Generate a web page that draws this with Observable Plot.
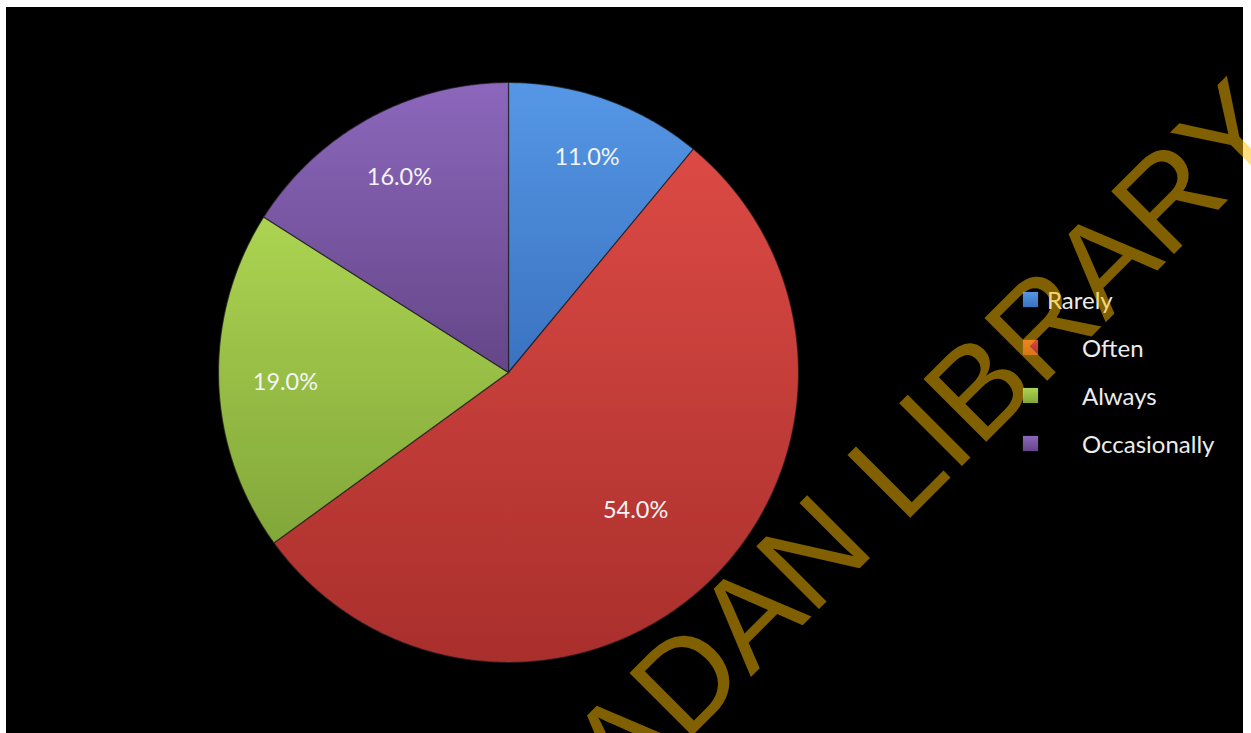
<!DOCTYPE html>
<html>
<head>
<meta charset="utf-8">
<script src="https://cdn.jsdelivr.net/npm/d3@7"></script>
<script src="https://cdn.jsdelivr.net/npm/@observablehq/plot@0.6"></script>
<style>
  html, body { margin: 0; padding: 0; background: #ffffff; }
  body { width: 1251px; height: 733px; overflow: hidden; position: relative; }
  #chart { position: absolute; left: 6px; top: 7px; width: 1237px; height: 726px; background: #000; overflow: hidden; }
  #legend { position: absolute; left: 1023px; top: 275px; font-family: Lato, "Open Sans", sans-serif; font-size: 24px; color: #ececec; }
  #legend .item { display: flex; align-items: center; height: 48px; }
  #legend .sw { width: 15px; height: 15px; margin-right: 44px; box-shadow: 0 0 2px rgba(255,255,255,0.15); }
  #legend .item:first-child .sw { margin-right: 9px; }
  #watermark { position: absolute; left: 0; top: 0; pointer-events: none; }
</style>
</head>
<body>
<div id="chart"></div>
<div id="legend"></div>
<svg id="watermark" width="1251" height="733"></svg>
<script>
// ---- data ----
const categories = ["Rarely", "Often", "Always", "Occasionally"];
const values = [11.0, 54.0, 19.0, 16.0];
const labels = ["11.0%", "54.0%", "19.0%", "16.0%"];
const topColors = ["#5597e6", "#dc4a45", "#acd451", "#8c67bc"];
const bottomColors = ["#3a72c0", "#a92f2c", "#82a73a", "#654688"];
const watermarkText = "UNIVERSITY OF IBADAN LIBRARY";

// ---- pie geometry from data ----
const total = d3.sum(values);
const arcs = d3.pie().sort(null).value(d => d)(values);
const slicePts = [];
arcs.forEach((a, i) => {
  const n = Math.max(8, Math.ceil((a.endAngle - a.startAngle) / 0.01));
  slicePts.push({cat: categories[i], i, x: 0, y: 0});
  for (let k = 0; k <= n; k++) {
    const t = a.startAngle + (a.endAngle - a.startAngle) * k / n;
    slicePts.push({cat: categories[i], i, x: Math.sin(t), y: Math.cos(t)});
  }
  slicePts.push({cat: categories[i], i, x: 0, y: 0});
});
const labelData = arcs.map((a, i) => {
  const mid = (a.startAngle + a.endAngle) / 2;
  const r = 0.84 - 0.37 * (values[i] / total);
  return {x: r * Math.sin(mid), y: r * Math.cos(mid), text: labels[i]};
});

const chart = Plot.plot({
  width: 1237,
  height: 726,
  marginLeft: 212,
  marginRight: 445,
  marginTop: 75,
  marginBottom: 71,
  x: {domain: [-1, 1], axis: null},
  y: {domain: [-1, 1], axis: null},
  color: {type: "identity"},
  style: {background: "transparent", overflow: "visible"},
  marks: [
    Plot.line(slicePts, {
      x: "x", y: "y", z: "cat",
      fill: d => `url(#grad-${d.i})`,
      stroke: "#1b1b1b", strokeWidth: 1.2, strokeOpacity: 0.7,
      strokeLinejoin: "round"
    }),
    Plot.text(labelData, {
      x: "x", y: "y", text: "text", dy: 3,
      fill: "#f4f4f4", fontSize: 23.5,
      fontFamily: "Lato, 'Open Sans', sans-serif"
    })
  ]
});
const defs = categories.map((c, i) =>
  `<linearGradient id="grad-${i}" x1="0" y1="0" x2="0" y2="1">
     <stop offset="0" stop-color="${topColors[i]}"/>
     <stop offset="1" stop-color="${bottomColors[i]}"/>
   </linearGradient>`).join("");
chart.insertAdjacentHTML("afterbegin", `<defs>${defs}</defs>`);
document.getElementById("chart").appendChild(chart);

// ---- legend ----
const legend = document.getElementById("legend");
categories.forEach((c, i) => {
  const item = document.createElement("div");
  item.className = "item";
  const sw = document.createElement("span");
  sw.className = "sw";
  sw.style.background = `linear-gradient(${topColors[i]}, ${bottomColors[i]})`;
  const tx = document.createElement("span");
  tx.textContent = c;
  item.appendChild(sw);
  item.appendChild(tx);
  legend.appendChild(item);
});

// ---- watermark ----
const wm = document.getElementById("watermark");
wm.innerHTML = `<text x="1291.5" y="136.5" text-anchor="end" transform="rotate(-45 1291.5 136.5)"
  font-family="'Liberation Sans', Arial, sans-serif" font-size="129"
  fill="rgb(255,191,0)" fill-opacity="0.5">${watermarkText}</text>`;
</script>
</body>
</html>
